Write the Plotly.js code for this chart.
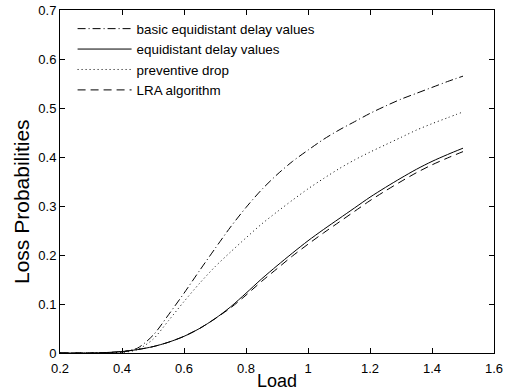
<!DOCTYPE html>
<html>
<head>
<meta charset="utf-8">
<script src="https://cdn.plot.ly/plotly-3.0.1.min.js"></script>
<style>html,body{margin:0;padding:0;background:#fff;}#chart{width:506px;height:391px;}</style>
</head>
<body>
<div id="chart"></div>
<script>
const load = [0.2, 0.3, 0.35, 0.4, 0.45, 0.5, 0.55, 0.6, 0.65, 0.7, 0.75, 0.8, 0.85, 0.9, 0.95, 1.0, 1.05, 1.1, 1.15, 1.2, 1.25, 1.3, 1.35, 1.4, 1.45, 1.5];
const basicEquidistant = [0, 0, 0, 0.002, 0.01, 0.036, 0.078, 0.122, 0.168, 0.213, 0.257, 0.297, 0.333, 0.364, 0.391, 0.414, 0.436, 0.455, 0.472, 0.489, 0.504, 0.518, 0.530, 0.542, 0.554, 0.565];
const equidistant = [0, 0, 0.001, 0.003, 0.007, 0.013, 0.022, 0.034, 0.05, 0.07, 0.094, 0.122, 0.151, 0.178, 0.204, 0.229, 0.252, 0.274, 0.296, 0.318, 0.338, 0.357, 0.375, 0.391, 0.405, 0.418];
const preventiveDrop = [0, 0, 0, 0.001, 0.007, 0.028, 0.066, 0.105, 0.142, 0.176, 0.206, 0.235, 0.263, 0.288, 0.312, 0.335, 0.356, 0.376, 0.394, 0.41, 0.425, 0.44, 0.455, 0.468, 0.48, 0.492];
const lraAlgorithm = [0, 0, 0.001, 0.003, 0.007, 0.013, 0.022, 0.034, 0.05, 0.07, 0.092, 0.118, 0.146, 0.172, 0.198, 0.222, 0.245, 0.267, 0.289, 0.311, 0.331, 0.35, 0.368, 0.384, 0.398, 0.411];
const names = ["basic equidistant delay values", "equidistant delay values", "preventive drop", "LRA algorithm"];
const series = [basicEquidistant, equidistant, preventiveDrop, lraAlgorithm];
const dashes = ["8px,3px,1px,3px", "solid", "1px,3px", "8px,5px"];
const xTicks = [0.2, 0.4, 0.6, 0.8, 1, 1.2, 1.4, 1.6];
const yTicks = [0, 0.1, 0.2, 0.3, 0.4, 0.5, 0.6, 0.7];

const traces = series.map((ys, i) => ({
  x: load, y: ys, name: names[i], type: "scatter", mode: "lines",
  line: {color: "#000", width: 1, dash: dashes[i], shape: "spline", smoothing: 0.8}
}));

const FONT = "Liberation Sans, Arial, sans-serif";
const axisCommon = {
  showline: true, linecolor: "#000", linewidth: 1, mirror: "ticks",
  ticks: "inside", ticklen: 5, tickcolor: "#000", showgrid: false, zeroline: false,
  tickfont: {family: FONT, size: 13, color: "#000"}
};

const layout = {
  width: 506, height: 391,
  margin: {l: 60, r: 12, t: 10, b: 38},
  paper_bgcolor: "#fff", plot_bgcolor: "#fff",
  font: {family: FONT, color: "#000"},
  showlegend: true,
  legend: {x: 0.029, y: 0.99, xanchor: "left", yanchor: "top", bgcolor: "rgba(0,0,0,0)",
    borderwidth: 0, itemwidth: 54, font: {size: 13.4, color: "#000"}},
  xaxis: Object.assign({}, axisCommon, {range: [0.2, 1.6], tickvals: xTicks,
    ticktext: xTicks.map(String), ticklabelstandoff: 3,
    title: {text: "Load", font: {size: 18, color: "#000"}, standoff: 1}}),
  yaxis: Object.assign({}, axisCommon, {range: [0, 0.7], tickvals: yTicks,
    ticktext: yTicks.map(String), title: {text: ""}}),
  annotations: [{text: "Loss Probabilities", xref: "paper", yref: "paper", x: -0.09, y: 0.443,
    xanchor: "center", yanchor: "middle", textangle: -90, showarrow: false,
    font: {family: FONT, size: 21, color: "#000"}}]
};

Plotly.newPlot("chart", traces, layout, {displayModeBar: false, staticPlot: true});
</script>
</body>
</html>
